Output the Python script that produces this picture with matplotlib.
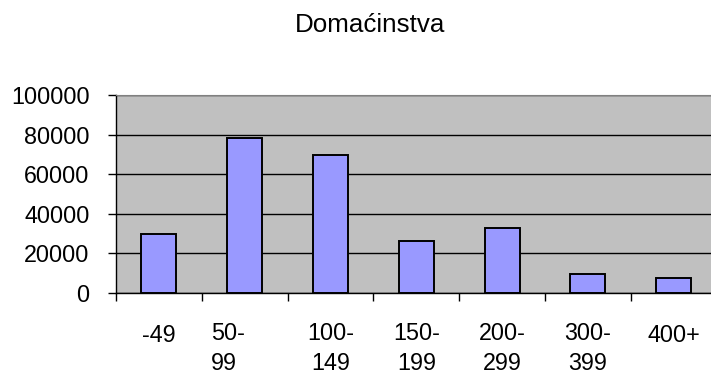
import matplotlib
matplotlib.use("Agg")
import matplotlib.pyplot as plt
import matplotlib.transforms as mtransforms
import numpy as np

plt.rcParams['font.family'] = ['Liberation Sans', 'DejaVu Sans']

# households per size group
categories = ["-49", "50-\n99", "100-\n149", "150-\n199", "200-\n299", "300-\n399", "400+"]
households = [29600, 78500, 69600, 26200, 32700, 9400, 7700]
yticks = [0, 20000, 40000, 60000, 80000, 100000]

W, H = 711, 380
fig = plt.figure(figsize=(W / 100, H / 100), dpi=100)
fig.patch.set_facecolor('white')

# plot area in pixels: left 116, top 95, bottom 293, 7 slots of ~85.8 px
left, top, bottom, slot = 116, 95, 293, 85.8
ax = fig.add_axes([left / W, (H - bottom) / H, 7 * slot / W, (bottom - top) / H])
ax.set_facecolor('#c0c0c0')

x = np.arange(len(categories))
ax.bar(x, households, width=0.41, color='#9999ff', edgecolor='black',
       linewidth=1.4, zorder=3)

ax.set_xlim(-0.5, len(categories) - 0.5)
ax.set_ylim(0, 100000)
ax.set_yticks(yticks)
ax.set_yticklabels([str(v) for v in yticks], fontsize=16.8)
ax.yaxis.grid(True, color='black', linewidth=1, zorder=1)
ax.set_axisbelow(True)

# ticks sit on the slot boundaries, labels drawn separately
ax.set_xticks(np.arange(len(categories) + 1) - 0.5)
ax.set_xticklabels([])
ax.tick_params(axis='x', direction='out', length=6, width=1, color='black')
ax.tick_params(axis='y', direction='out', length=6, width=1, color='black', pad=13)

for side in ['left', 'bottom']:
    ax.spines[side].set_color('black')
    ax.spines[side].set_linewidth(1)
ax.spines['top'].set_color('#808080')
ax.spines['right'].set_visible(False)

# category labels, wrapped onto two lines
trans = mtransforms.blended_transform_factory(ax.transData, fig.transFigure)
x_shift = [0, -0.2, 0, 0, 0, 0, 0]
for i, lab in enumerate(categories):
    lines = lab.split('\n')
    if len(lines) == 1:
        ys = [336]
    else:
        ys = [334, 364]
    for line, ypx in zip(lines, ys):
        ha = 'left' if x_shift[i] else 'center'
        xpos = x[i] + x_shift[i] - (0.19 if x_shift[i] else 0)
        ax.text(xpos, 1 - ypx / H, line, transform=trans, ha=ha, va='center',
                fontsize=16.8, color='black')

fig.text(370 / W, 1 - 32 / H, "Domaćinstva", ha='center', va='baseline',
         fontsize=18.7, color='black')

fig.savefig('out.png', dpi=100, facecolor='white')
